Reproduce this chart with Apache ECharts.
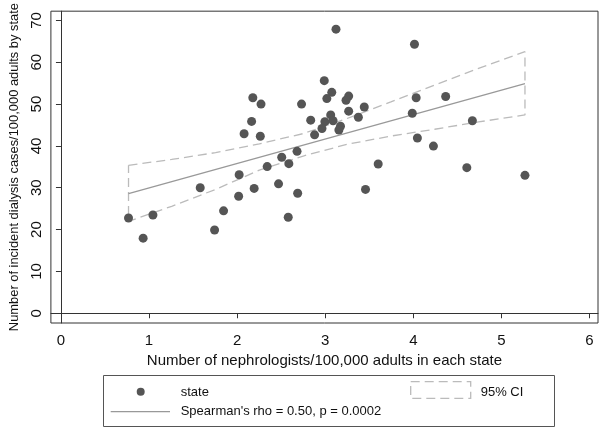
<!DOCTYPE html>
<html>
<head>
<meta charset="utf-8">
<script src="https://cdn.jsdelivr.net/npm/echarts@6/dist/echarts.min.js"></script>
<style>
  html, body { margin: 0; padding: 0; background: #fff; }
  #chart { width: 600px; height: 428px; }
</style>
</head>
<body>
<div id="chart"></div>
<script>
// nephrologists per 100,000 adults (x) vs incident dialysis cases (y), one point per state
var stateX = [2.178, 2.271, 2.731, 2.164, 2.079, 2.263, 2.835, 2.680, 2.506, 2.587,
              2.341, 2.023, 2.470, 2.193, 2.017, 2.687, 1.581, 0.767, 0.933, 1.044,
              1.846, 1.744, 2.580, 3.457, 3.122, 4.013, 2.989, 3.074, 3.018, 3.266,
              3.236, 3.443, 3.266, 3.062, 3.376, 2.996, 3.089, 2.963, 3.173, 3.155,
              2.879, 4.032, 4.367, 3.988, 4.046, 4.228, 4.670, 3.601, 4.607, 5.267];
var stateY = [51.5, 50.0, 50.0, 45.85, 42.9, 42.3, 46.15, 38.7, 37.3, 35.75,
              35.06, 33.1, 30.93, 29.84, 27.97, 28.67, 30.0, 22.77, 17.95, 23.47,
              24.48, 19.9, 22.94, 29.6, 67.9, 64.3, 55.6, 52.8, 51.3, 51.9,
              50.9, 49.3, 48.3, 47.4, 46.85, 45.8, 46.0, 44.15, 44.7, 43.8,
              42.65, 51.5, 51.8, 47.8, 41.9, 39.95, 46.0, 35.67, 34.8, 32.96];

// fitted line and 95% CI
var fitX = [0.767, 5.267];
var fitY = [28.6, 54.9];
var ciX     = [0.767, 1.257, 1.755, 2.252, 2.750, 3.247, 3.745, 4.242, 4.740, 5.267];
var ciUpper = [35.36, 36.76, 38.39, 40.49, 42.94, 46.55, 50.51, 54.55, 58.55, 62.52];
var ciLower = [21.96, 25.57, 29.60, 34.20, 37.58, 40.37, 42.35, 43.98, 45.73, 47.41];

var xTicks = [0, 1, 2, 3, 4, 5, 6];
var yTicks = [0, 10, 20, 30, 40, 50, 60, 70];

var font = "'Liberation Sans', Arial, Helvetica, sans-serif";

var points = stateX.map(function (x, i) { return [x, stateY[i]]; });
var fitLine = fitX.map(function (x, i) { return [x, fitY[i]]; });
// outline of the band: upper left->right, lower right->left, closed
var ciOutline = [];
ciX.forEach(function (x, i) { ciOutline.push([x, ciUpper[i]]); });
for (var i = ciX.length - 1; i >= 0; i--) ciOutline.push([ciX[i], ciLower[i]]);
ciOutline.push([ciX[0], ciUpper[0]]);

var myChart = echarts.init(document.getElementById('chart'));
myChart.setOption({
    animation: false,
    textStyle: { fontFamily: font },
    grid: {
        left: 36, top: 3, right: 2, bottom: 105,
        show: true, borderColor: '#333', borderWidth: 1
    },
    xAxis: {
        type: 'value', min: -0.114, max: 6.096,
        name: 'Number of nephrologists/100,000 adults in each state',
        nameLocation: 'middle', nameGap: 26,
        nameTextStyle: { fontSize: 15, color: '#111', fontFamily: font },
        axisLine: { show: true, lineStyle: { color: '#333' } },
        axisTick: { show: true, length: 5, customValues: xTicks, lineStyle: { color: '#333' } },
        axisLabel: { customValues: xTicks, fontSize: 15, color: '#111', margin: 10, fontFamily: font },
        splitLine: { show: false }
    },
    yAxis: {
        type: 'value', min: -2.33, max: 72.2,
        name: 'Number of incident dialysis cases/100,000 adults by state',
        nameLocation: 'middle', nameGap: 28, nameRotate: 90,
        nameTextStyle: { fontSize: 12.9, color: '#111', fontFamily: font },
        axisLine: { show: true, lineStyle: { color: '#333' } },
        axisTick: { show: true, length: 5, customValues: yTicks, lineStyle: { color: '#333' } },
        axisLabel: { customValues: yTicks, rotate: 90, fontSize: 15, color: '#111', margin: 7, fontFamily: font },
        splitLine: { show: false }
    },
    series: [
        {
            name: '95% CI', type: 'line', data: ciOutline, z: 1,
            symbol: 'none', silent: true,
            lineStyle: { color: '#bbbbbb', width: 1.3, type: [9, 5] }
        },
        {
            name: 'fit', type: 'line', data: fitLine, z: 2,
            symbol: 'none', silent: true,
            lineStyle: { color: '#999999', width: 1.3 }
        },
        {
            name: 'state', type: 'scatter', data: points, z: 3,
            symbolSize: 9,
            itemStyle: { color: '#555555', opacity: 1 }
        }
    ],
    graphic: [
        { type: 'rect', shape: { x: 103.5, y: 375.5, width: 451, height: 51 },
          style: { fill: '#fff', stroke: '#555', lineWidth: 1 } },
        { type: 'circle', shape: { cx: 140.7, cy: 391.7, r: 4 }, style: { fill: '#555' } },
        { type: 'text', x: 180.7, y: 392, style: { text: 'state', fontSize: 13, fontFamily: font, fill: '#111', verticalAlign: 'middle' } },
        { type: 'line', shape: { x1: 110.7, y1: 411.7, x2: 170, y2: 411.7 }, style: { stroke: '#999', lineWidth: 1.3 } },
        { type: 'text', x: 180.7, y: 411.5, style: { text: "Spearman's rho = 0.50, p = 0.0002", fontSize: 13, fontFamily: font, fill: '#111', verticalAlign: 'middle' } },
        { type: 'rect', shape: { x: 410.7, y: 381.7, width: 60, height: 16.6 },
          style: { fill: 'none', stroke: '#bbb', lineWidth: 1.3, lineDash: [9, 5] } },
        { type: 'text', x: 480.7, y: 392, style: { text: '95% CI', fontSize: 13, fontFamily: font, fill: '#111', verticalAlign: 'middle' } }
    ]
});
</script>
</body>
</html>
